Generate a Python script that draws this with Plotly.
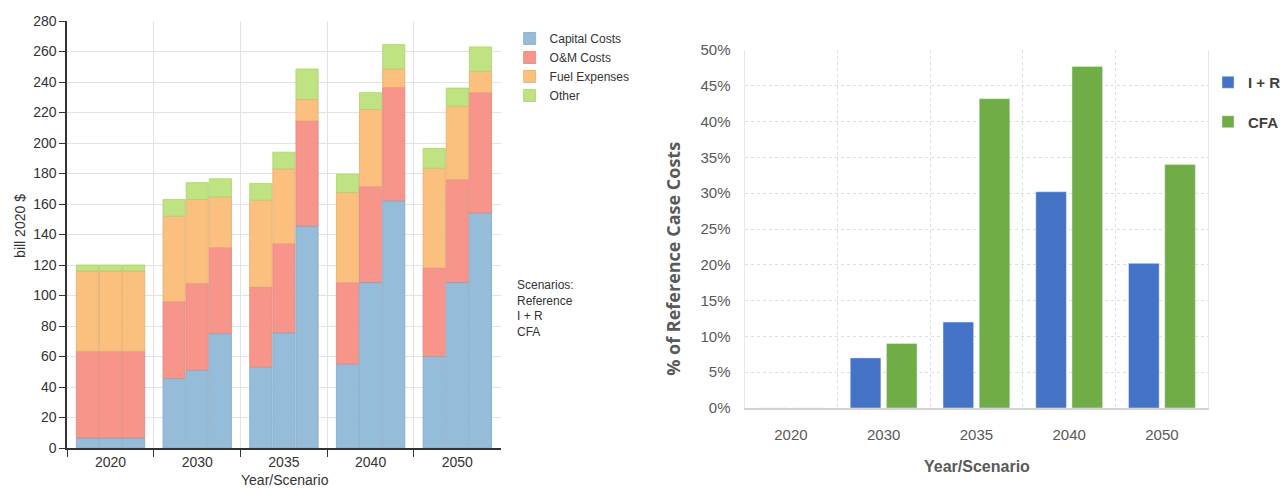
import plotly.graph_objects as go

# left chart: costs in bill 2020 $, stacked by component, one bar per scenario
years = ["2020", "2030", "2035", "2040", "2050"]
scenarios = ["Reference", "I + R", "CFA"]
components = ["Capital Costs", "O&M Costs", "Fuel Expenses", "Other"]

capital = {
    "Reference": [6.5, 45.5, 53, 55, 60],
    "I + R": [6.5, 51, 75.5, 108.5, 108.5],
    "CFA": [6.5, 75, 145.5, 162, 154],
}
om_costs = {
    "Reference": [57, 50.5, 52.5, 53.5, 58],
    "I + R": [57, 57, 58.5, 63, 67.5],
    "CFA": [57, 56.5, 69, 74.5, 79],
}
fuel = {
    "Reference": [52.5, 56, 57, 59, 65.5],
    "I + R": [52.5, 55, 49, 50.5, 48],
    "CFA": [52.5, 33, 14, 12, 14],
}
other = {
    "Reference": [4, 11, 11, 12, 13],
    "I + R": [4, 11, 11, 11, 12],
    "CFA": [4, 12, 20, 16, 16],
}

# right chart: % of reference case costs
pct_years = ["2020", "2030", "2035", "2040", "2050"]
pct_ir = [0.0, 0.07, 0.12, 0.302, 0.202]
pct_cfa = [0.0, 0.09, 0.432, 0.477, 0.34]

comp_data = [capital, om_costs, fuel, other]
comp_colors = ["#95bdd9", "#f7958b", "#fbc07d", "#bfe283"]
comp_lines = ["#86aac4", "#e0867d", "#e2ad71", "#acd076"]

W, H = 1286, 489


def px(x):
    return x / W


def py(y):
    return 1 - y / H


fig = go.Figure()

for s in scenarios:
    base = [0] * len(years)
    for name, data, col, lc in zip(components, comp_data, comp_colors, comp_lines):
        vals = data[s]
        fig.add_trace(go.Bar(
            x=years, y=vals, base=base, name=name,
            offsetgroup=s, legendgroup=name, showlegend=(s == "Reference"),
            marker=dict(color=col, line=dict(color=lc, width=0.8)),
            xaxis="x", yaxis="y", legend="legend",
        ))
        base = [b + v for b, v in zip(base, vals)]

fig.add_trace(go.Bar(
    x=pct_years, y=pct_ir, name="I + R", width=0.33, offset=-0.36,
    marker=dict(color="#4472c4"), xaxis="x2", yaxis="y2",
    legend="legend2", legendgroup="ir",
))
fig.add_trace(go.Bar(
    x=pct_years, y=pct_cfa, name="CFA", width=0.33, offset=0.03,
    marker=dict(color="#70ad47"), xaxis="x2", yaxis="y2",
    legend="legend2", legendgroup="cfa",
))

sans = "Liberation Sans, Arial, sans-serif"
left_font = dict(family=sans, size=14, color="#333333")
right_tick = dict(family=sans, size=15, color="#595959")

fig.update_layout(
    width=W, height=H,
    margin=dict(l=0, r=0, t=0, b=0),
    paper_bgcolor="white", plot_bgcolor="white",
    barmode="group", bargap=0.2, bargroupgap=0.04,
    font=left_font,
    xaxis=dict(
        domain=[px(67.5), px(503)], anchor="y", type="category",
        tickson="boundaries", ticks="outside", ticklen=7, tickcolor="#333333",
        showline=True, linecolor="#333333", linewidth=1.5,
        showgrid=True, gridcolor="#e3e3e3", automargin=False,
    ),
    yaxis=dict(
        domain=[py(448), py(21)], anchor="x", range=[0, 280], dtick=20,
        ticks="outside", ticklen=6, tickcolor="#333333",
        showline=True, linecolor="#333333", linewidth=1.5,
        showgrid=True, gridcolor="#e3e3e3", zeroline=False, automargin=False,
    ),
    xaxis2=dict(
        domain=[px(748), px(1214)], anchor="y2", type="category",
        tickson="boundaries", ticks="", ticklabelstandoff=12,
        tickfont=right_tick,
        showline=True, linecolor="#d4d4d4", linewidth=2,
        showgrid=True, gridcolor="#dedede", griddash="dot", automargin=False,
    ),
    yaxis2=dict(
        domain=[py(408), py(50)], anchor="x2", range=[0, 0.5], dtick=0.05,
        tickformat=".0%", ticks="", ticklabelstandoff=10,
        tickfont=right_tick,
        showline=True, linecolor="#e6e6e6", linewidth=1, mirror=True,
        showgrid=True, gridcolor="#dedede", griddash="dot",
        zeroline=False, automargin=False,
    ),
    legend=dict(
        x=px(512), y=py(24), xanchor="left", yanchor="top",
        font=dict(family=sans, size=12, color="#333333"),
        tracegroupgap=0, itemwidth=30, bgcolor="rgba(0,0,0,0)",
    ),
    legend2=dict(
        x=px(1214), y=py(66), xanchor="left", yanchor="top",
        font=dict(family=sans, size=15, color="#404040", weight="bold"),
        tracegroupgap=17, itemwidth=30, bgcolor="rgba(0,0,0,0)",
    ),
    annotations=[
        dict(text="bill 2020 $", x=px(20), y=py(226), xref="paper", yref="paper",
             xanchor="center", yanchor="middle",
             textangle=-90, showarrow=False, font=dict(size=14, color="#333333")),
        dict(text="Year/Scenario", x=px(286), y=py(480), xref="paper", yref="paper",
             xanchor="center", yanchor="middle",
             showarrow=False, font=dict(size=14, color="#333333")),
        dict(text="Scenarios:<br>Reference<br>I + R<br>CFA", x=px(517), y=py(276),
             xref="paper", yref="paper", xanchor="left", yanchor="top", align="left",
             showarrow=False, font=dict(size=12, color="#333333")),
        dict(text="% of Reference Case Costs", x=px(676), y=py(259),
             xref="paper", yref="paper", xanchor="center", yanchor="middle",
             textangle=-90, showarrow=False,
             font=dict(family="Open Sans, sans-serif", size=18, color="#595959", weight="bold")),
        dict(text="Year/Scenario", x=px(982), y=py(466), xref="paper", yref="paper",
             xanchor="center", yanchor="middle", showarrow=False,
             font=dict(family=sans, size=16, color="#595959", weight="bold")),
    ],
)

# drop the page's default body margin and scrollbars so the figure fills the window
fit_page = (
    "document.body.style.margin='0';"
    "document.body.style.overflow='hidden';"
    "Plotly.Plots.resize(document.getElementById('{plot_id}'));"
)

fig.write_html("out.html", post_script=fit_page, config={"displayModeBar": False})
